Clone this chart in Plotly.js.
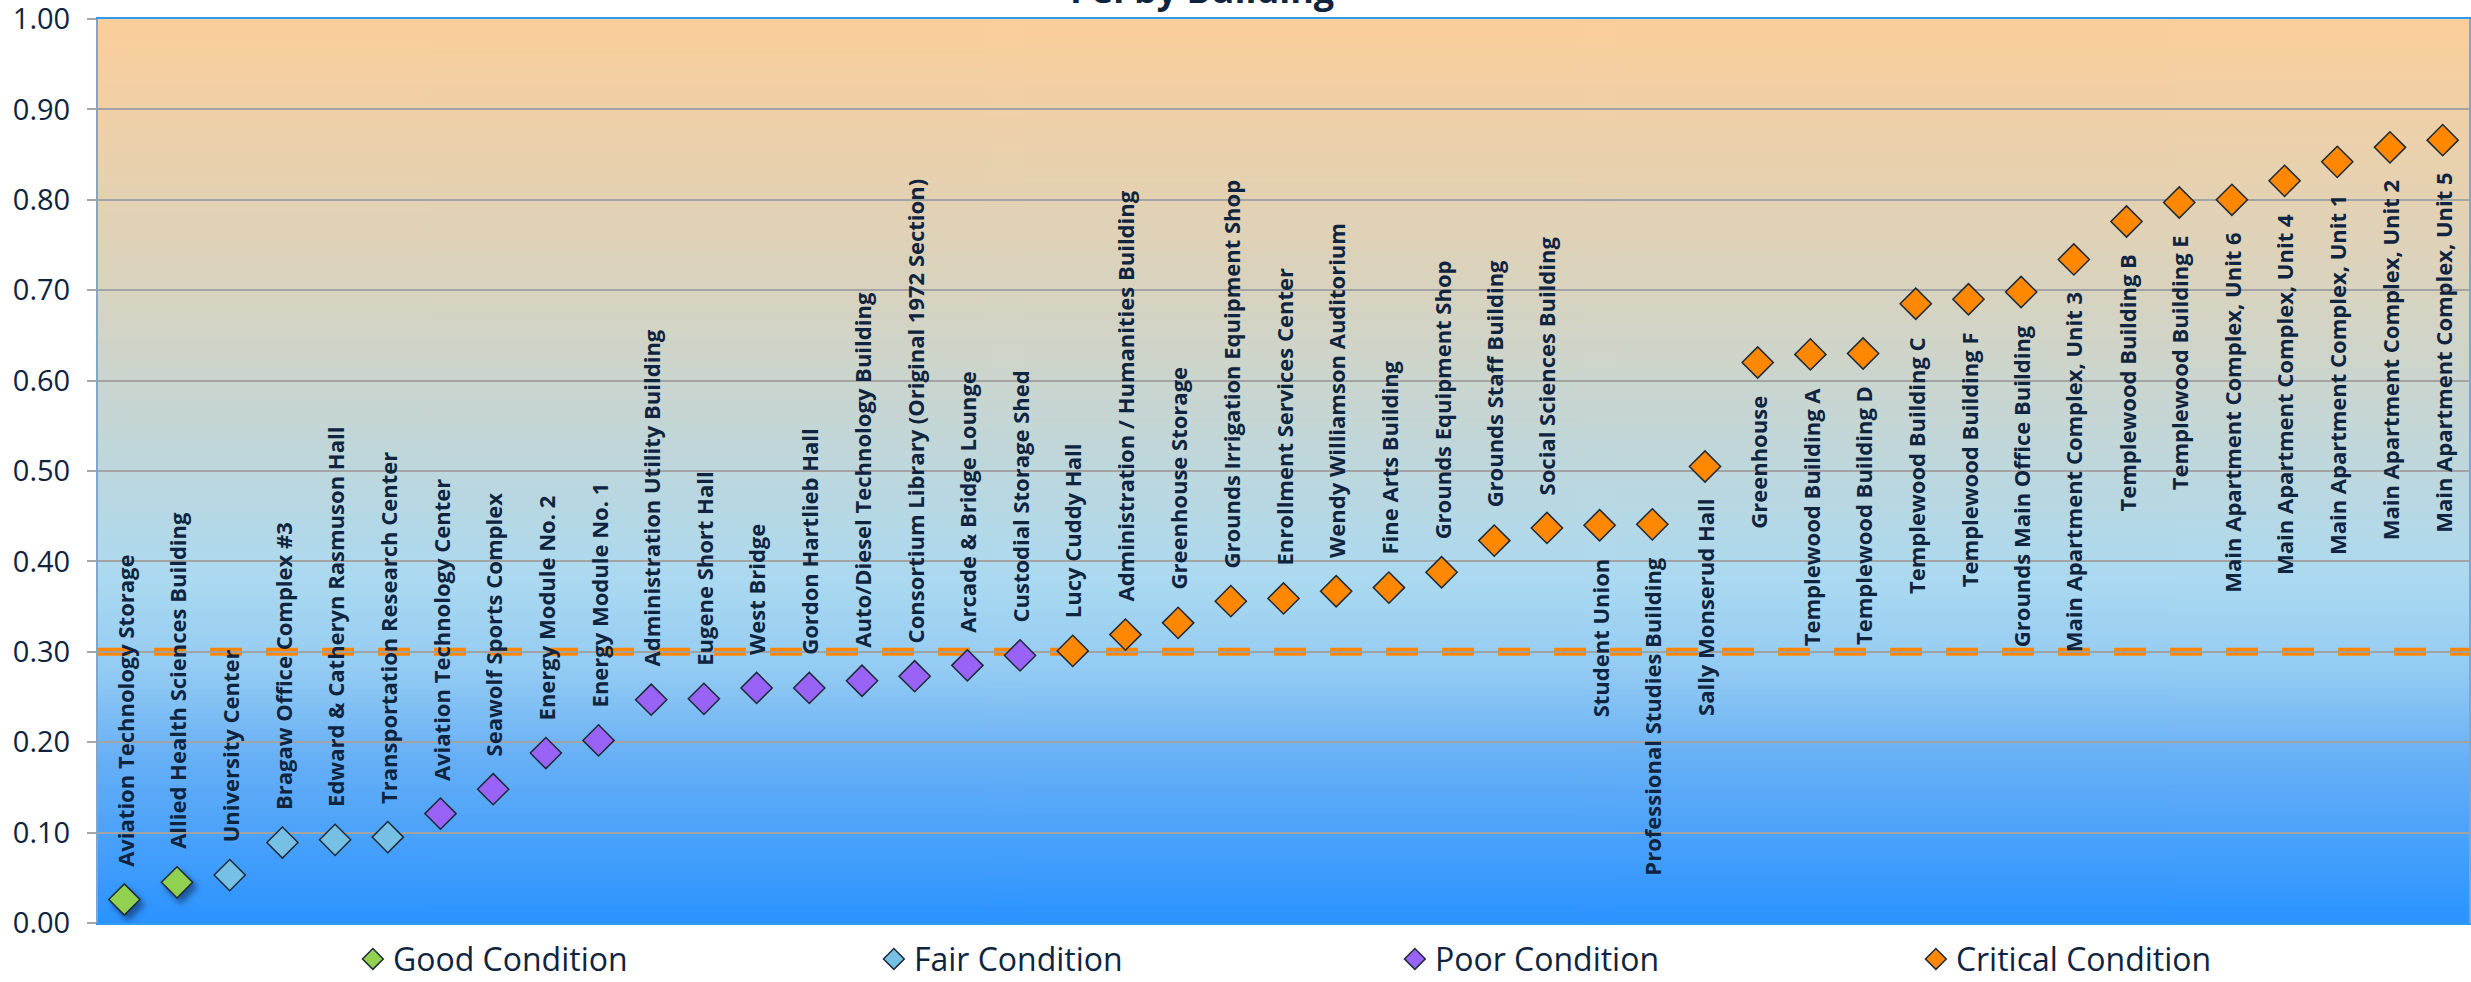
<!DOCTYPE html>
<html>
<head>
<meta charset="utf-8">
<script src="https://cdn.plot.ly/plotly-3.0.1.min.js"></script>
<style>
  html, body { margin: 0; padding: 0; background: #ffffff; }
  #chart { width: 2471px; height: 982px; }
</style>
</head>
<body>
<div id="chart"></div>
<script>
// Facility Condition Index per building, sorted ascending
const buildings = [
  'Aviation Technology Storage',
  'Allied Health Sciences Building',
  'University Center',
  'Bragaw Office Complex #3',
  'Edward & Catheryn Rasmuson Hall',
  'Transportation Research Center',
  'Aviation Technology Center',
  'Seawolf Sports Complex',
  'Energy Module No. 2',
  'Energy Module No. 1',
  'Administration Utility Building',
  'Eugene Short Hall',
  'West Bridge',
  'Gordon Hartlieb Hall',
  'Auto/Diesel Technology Building',
  'Consortium Library (Original 1972 Section)',
  'Arcade & Bridge Lounge',
  'Custodial Storage Shed',
  'Lucy Cuddy Hall',
  'Administration / Humanities Building',
  'Greenhouse Storage',
  'Grounds Irrigation Equipment Shop',
  'Enrollment Services Center',
  'Wendy Williamson Auditorium',
  'Fine Arts Building',
  'Grounds Equipment Shop',
  'Grounds Staff Building',
  'Social Sciences Building',
  'Student Union',
  'Professional Studies Building',
  'Sally Monserud Hall',
  'Greenhouse',
  'Templewood Building A',
  'Templewood Building D',
  'Templewood Building C',
  'Templewood Building F',
  'Grounds Main Office Building',
  'Main Apartment Complex, Unit 3',
  'Templewood Building B',
  'Templewood Building E',
  'Main Apartment Complex, Unit 6',
  'Main Apartment Complex, Unit 4',
  'Main Apartment Complex, Unit 1',
  'Main Apartment Complex, Unit 2',
  'Main Apartment Complex, Unit 5'
];

const fci = [
  0.026, 0.045, 0.053, 0.089, 0.092, 0.095, 0.121, 0.148, 0.188, 0.202,
  0.247, 0.248, 0.260, 0.260, 0.268, 0.273, 0.285, 0.296, 0.301, 0.319,
  0.332, 0.356, 0.359, 0.367, 0.371, 0.388, 0.423, 0.437, 0.440, 0.441,
  0.505, 0.620, 0.629, 0.630, 0.685, 0.690, 0.698, 0.734, 0.776, 0.797,
  0.800, 0.821, 0.842, 0.858, 0.866
];

const condition = [
  'Good', 'Good', 'Fair', 'Fair', 'Fair', 'Fair', 'Poor', 'Poor', 'Poor', 'Poor',
  'Poor', 'Poor', 'Poor', 'Poor', 'Poor', 'Poor', 'Poor', 'Poor', 'Critical', 'Critical',
  'Critical', 'Critical', 'Critical', 'Critical', 'Critical', 'Critical', 'Critical', 'Critical', 'Critical', 'Critical',
  'Critical', 'Critical', 'Critical', 'Critical', 'Critical', 'Critical', 'Critical', 'Critical', 'Critical', 'Critical',
  'Critical', 'Critical', 'Critical', 'Critical', 'Critical'
];

const conditionKeys = ['Good', 'Fair', 'Poor', 'Critical'];
const conditionLabels = ['Good Condition', 'Fair Condition', 'Poor Condition', 'Critical Condition'];
const conditionColors = ['#92D050', '#76BFE5', '#9A63F7', '#FF8800'];

const yTickValues = [0, 0.1, 0.2, 0.3, 0.4, 0.5, 0.6, 0.7, 0.8, 0.9, 1.0];
const criticalThreshold = 0.30;
const chartTitle = 'FCI by Building';

// name labels switch from above to below the marker starting at this building
const firstLabelBelow = 'Student Union';

const INK = '#0F243E';
const BASE_FONT = 'Open Sans, Roboto, sans-serif';

// vertical background wash: peach at the top, light blue mid, saturated blue at the bottom
function gradientImage() {
  const c = document.createElement('canvas');
  c.width = 4; c.height = 904;
  const g = c.getContext('2d');
  const grad = g.createLinearGradient(0, 0, 0, c.height);
  grad.addColorStop(0.00, '#FBCE9A');
  grad.addColorStop(0.30, '#D8D3BF');
  grad.addColorStop(0.50, '#BDD7DD');
  grad.addColorStop(0.62, '#ABD9F0');
  grad.addColorStop(0.72, '#93CBF3');
  grad.addColorStop(0.82, '#66AFF6');
  grad.addColorStop(1.00, '#2A93FF');
  g.fillStyle = grad;
  g.fillRect(0, 0, c.width, c.height);
  return c.toDataURL('image/png');
}

const traces = conditionKeys.map((key, k) => {
  const xs = [], ys = [];
  buildings.forEach((b, i) => {
    if (condition[i] === key) { xs.push(b); ys.push(fci[i]); }
  });
  return {
    type: 'scatter',
    mode: 'markers',
    name: conditionLabels[k],
    x: xs,
    y: ys,
    marker: {
      symbol: 'diamond',
      size: 24,
      color: conditionColors[k],
      line: { color: '#1C2A38', width: 1.5 }
    },
    hoverinfo: 'x+y'
  };
});

const belowStart = buildings.indexOf(firstLabelBelow);
const labelAnnotations = buildings.map((b, i) => {
  const below = i >= belowStart;
  return {
    x: b,
    y: fci[i],
    xref: 'x',
    yref: 'y',
    text: b,
    showarrow: false,
    textangle: -90,
    xanchor: 'center',
    yanchor: below ? 'top' : 'bottom',
    yshift: below ? -31 : 31,
    font: { family: BASE_FONT, size: 22, color: INK, weight: 'bold' }
  };
});

const titleAnnotation = {
  xref: 'paper',
  yref: 'paper',
  x: 0.4656,
  y: 1,
  xanchor: 'center',
  yanchor: 'bottom',
  yshift: 3,
  showarrow: false,
  text: '<b>' + chartTitle + '</b>',
  font: { family: BASE_FONT, size: 36, color: INK }
};

const layout = {
  width: 2471,
  height: 982,
  margin: { l: 98, r: 2, t: 19, b: 59, pad: 0, autoexpand: false },
  paper_bgcolor: '#ffffff',
  plot_bgcolor: 'rgba(0,0,0,0)',
  showlegend: true,
  font: { family: BASE_FONT, color: INK },
  xaxis: {
    type: 'category',
    categoryorder: 'array',
    categoryarray: buildings,
    range: [-0.5, buildings.length - 0.5],
    showticklabels: false,
    ticks: '',
    showgrid: false,
    zeroline: false,
    showline: true,
    linecolor: '#2E9BF0',
    linewidth: 2,
    mirror: true
  },
  yaxis: {
    range: [0, 1],
    tickvals: yTickValues,
    tickformat: '.2f',
    ticks: 'outside',
    ticklen: 9,
    tickwidth: 2,
    tickcolor: '#A6A6A6',
    ticklabelstandoff: 11,
    ticklabeloverflow: 'allow',
    tickfont: { family: BASE_FONT, size: 29, color: INK },
    showgrid: true,
    gridcolor: '#A3A3A3',
    gridwidth: 2,
    zeroline: false,
    showline: true,
    linecolor: '#7FA6CC',
    linewidth: 2,
    mirror: true
  },
  shapes: [{
    type: 'line',
    xref: 'paper',
    yref: 'y',
    x0: 0,
    x1: 1,
    y0: criticalThreshold,
    y1: criticalThreshold,
    layer: 'below',
    line: { color: '#FF8800', width: 8, dash: '32px,24px' }
  }],
  images: [{
    source: gradientImage(),
    xref: 'paper',
    yref: 'paper',
    x: 0,
    y: 1,
    sizex: 1,
    sizey: 1,
    xanchor: 'left',
    yanchor: 'top',
    sizing: 'stretch',
    layer: 'below'
  }],
  legend: {
    orientation: 'h',
    x: 0.1075,
    xanchor: 'left',
    y: -0.040,
    yanchor: 'middle',
    entrywidth: 476,
    entrywidthmode: 'pixels',
    itemsizing: 'trace',
    bgcolor: 'rgba(0,0,0,0)',
    font: { family: BASE_FONT, size: 32, color: INK }
  },
  annotations: [titleAnnotation].concat(labelAnnotations)
};

Plotly.newPlot('chart', traces, layout, { displayModeBar: false, staticPlot: true }).then(() => {
  // soft drop shadow under the good-condition markers
  const first = document.querySelector('.scatterlayer .trace');
  if (first) {
    first.querySelectorAll('.points path').forEach(p => {
      p.style.filter = 'drop-shadow(4px 5px 3px rgba(10,30,70,0.55))';
    });
  }
});
</script>
</body>
</html>
